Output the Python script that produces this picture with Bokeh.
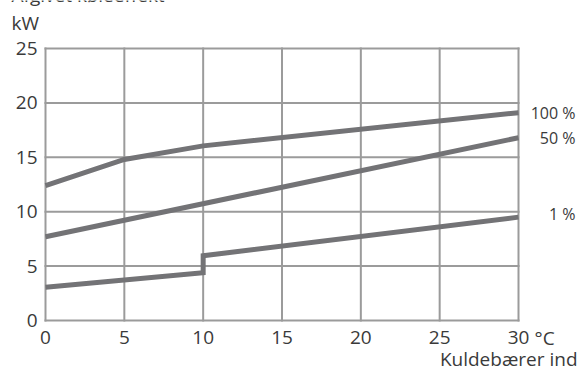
from bokeh.plotting import figure
from bokeh.models import Range1d, Label, FixedTicker
from bokeh.embed import file_html
from bokeh.resources import INLINE

# ---- data ----
temp_100 = [0, 5, 10, 30]
kw_100 = [12.4, 14.8, 16.05, 19.1]
temp_50 = [0, 30]
kw_50 = [7.7, 16.8]
temp_1 = [0, 10, 10, 30]
kw_1 = [3.05, 4.4, 5.95, 9.5]
series_labels = ["100 %", "50 %", "1 %"]
x_ticks = [0, 5, 10, 15, 20, 25, 30]
y_ticks = [0, 5, 10, 15, 20, 25]
title_text = "Afgivet køleeffekt"
y_unit = "kW"
x_unit = "°C"
x_title = "Kuldebærer ind"

# ---- layout (pixels) ----
W, H = 583, 372
BOX_L, BOX_R, BOX_T, BOX_B = 45, 518, 48, 320

FONT = "Open Sans"
TXT = "#3a3a3a"
GRID = "#9b9b9b"
LINE = "#737376"

xmin, xmax = x_ticks[0], x_ticks[-1]
ymin, ymax = y_ticks[0], y_ticks[-1]
sx = (BOX_R - BOX_L) / (xmax - xmin)
sy = (BOX_B - BOX_T) / (ymax - ymin)


def dx(px):
    return xmin + (px - BOX_L) / sx


def dy(py):
    return ymin + (BOX_B - py) / sy


p = figure(width=W, height=H,
           x_range=Range1d(dx(0), dx(W)), y_range=Range1d(dy(H), dy(0)),
           output_backend="svg", toolbar_location=None,
           min_border=0, min_border_left=0, min_border_right=0,
           min_border_top=0, min_border_bottom=0)
p.background_fill_color = "white"
p.border_fill_color = "white"
p.outline_line_color = None
p.grid.visible = False


def style_axis(ax, standoff):
    ax.axis_line_color = None
    ax.major_tick_line_color = None
    ax.minor_tick_line_color = None
    ax.major_tick_out = 0
    ax.major_tick_in = 0
    ax.major_label_standoff = standoff
    ax.major_label_text_font = FONT
    ax.major_label_text_font_size = "19px"
    ax.major_label_text_color = TXT


p.xaxis.ticker = FixedTicker(ticks=x_ticks)
p.yaxis.ticker = FixedTicker(ticks=y_ticks)
p.xaxis.fixed_location = ymin
p.yaxis.fixed_location = xmin
style_axis(p.xaxis[0], 10)
style_axis(p.yaxis[0], 8)

# grid lines limited to the data box
nx, ny = len(x_ticks), len(y_ticks)
p.segment(x0=x_ticks, y0=[ymin] * nx, x1=x_ticks, y1=[ymax] * nx,
          line_color=GRID, line_width=2, line_cap="square")
p.segment(x0=[xmin] * ny, y0=y_ticks, x1=[xmax] * ny, y1=y_ticks,
          line_color=GRID, line_width=2, line_cap="square")

for xs, ys in ((temp_100, kw_100), (temp_50, kw_50), (temp_1, kw_1)):
    p.line(xs, ys, line_width=5, line_color=LINE, line_join="miter")

# series names at the right end of each line
label_shift = [0.0, 0.0, 0.3]
for lab, ys, sh in zip(series_labels, (kw_100, kw_50, kw_1), label_shift):
    p.add_layout(Label(x=dx(575), y=ys[-1] + sh, text=lab, text_align="right",
                       text_baseline="middle", text_font=FONT,
                       text_font_size="16px", text_color=TXT))


def txt(text, px, py, align):
    p.add_layout(Label(x=dx(px), y=dy(py), text=text, text_align=align,
                       text_baseline="alphabetic", text_font=FONT,
                       text_font_size="19px", text_color=TXT))


txt(x_unit, 534, 337, "left")
txt(x_title, 577, 358, "right")
txt(y_unit, 11, 22, "left")
txt(title_text, 11, -6, "left")

open("out.html", "w").write(file_html(p, INLINE))
